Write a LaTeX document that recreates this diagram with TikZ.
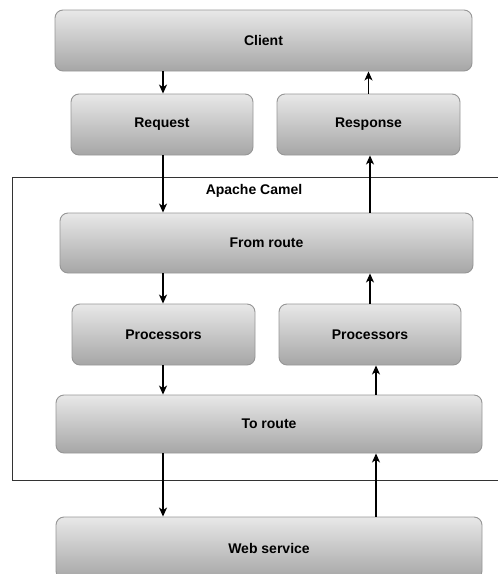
\documentclass[tikz,border=0pt]{standalone}
\usepackage{fontspec}
\setmainfont{Liberation Sans}
\usetikzlibrary{shapes,arrows.meta,positioning,calc}

\definecolor{boxtop}{RGB}{232,232,232}
\definecolor{boxbot}{RGB}{166,166,166}
\definecolor{boxline}{RGB}{150,150,150}

\tikzset{
  block/.style={draw=boxline, line width=0.9pt, rounded corners=8pt,
    top color=boxtop, bottom color=boxbot,
    font=\fontsize{14}{16}\selectfont\bfseries},
  flow/.style={-{Stealth[length=9pt,width=8pt,inset=2.5pt]}, line width=1.2pt}
}

\begin{document}
\begin{tikzpicture}[x=1pt, y=-1pt]
\useasboundingbox (0,0) rectangle (498,574);

% Apache Camel
\draw[line width=0.9pt, black!80] (12,177) rectangle (506,480);
\node[font=\fontsize{14}{16}\selectfont\bfseries] (camel) at (254,191) {Apache Camel};

% Client
\node[block, minimum width=417pt, minimum height=61pt] (client) at (263.5,40.5) {Client};
\node[block, minimum width=182pt, minimum height=61pt] (request) at (162,124.5) {Request};
\node[block, minimum width=183pt, minimum height=61pt] (response) at (368.5,124.5) {Response};

% route
\node[block, minimum width=413pt, minimum height=60pt] (from) at (266.5,243) {From route};
\node[block, minimum width=183pt, minimum height=61pt] (procL) at (163.5,334.5) {Processors};
\node[block, minimum width=182pt, minimum height=61pt] (procR) at (370,334.5) {Processors};
\node[block, minimum width=426pt, minimum height=58pt] (to) at (269,424) {To route};

% Web service
\node[block, minimum width=426pt, minimum height=62pt] (web) at (269,548) {Web service};

\coordinate (lx) at (163,0);
\coordinate (rx) at (376,0);

% down
\draw[flow] (client.south -| lx) -- (request.north -| lx);
\draw[flow] (request.south -| lx) -- (from.north -| lx);
\draw[flow] (from.south -| lx) -- (procL.north -| lx);
\draw[flow] (procL.south -| lx) -- (to.north -| lx);
\draw[flow] (to.south -| lx) -- (web.north -| lx);

% up
\draw[flow] (web.north -| rx) -- (to.south -| rx);
\draw[flow] (to.north -| rx) -- (procR.south -| rx);
\draw[flow] (procR.north) -- (procR.north |- from.south);
\draw[flow] (from.north -| procR) -- (response.south -| procR);
\draw[flow] (response.north) -- (response.north |- client.south);
\end{tikzpicture}
\end{document}
